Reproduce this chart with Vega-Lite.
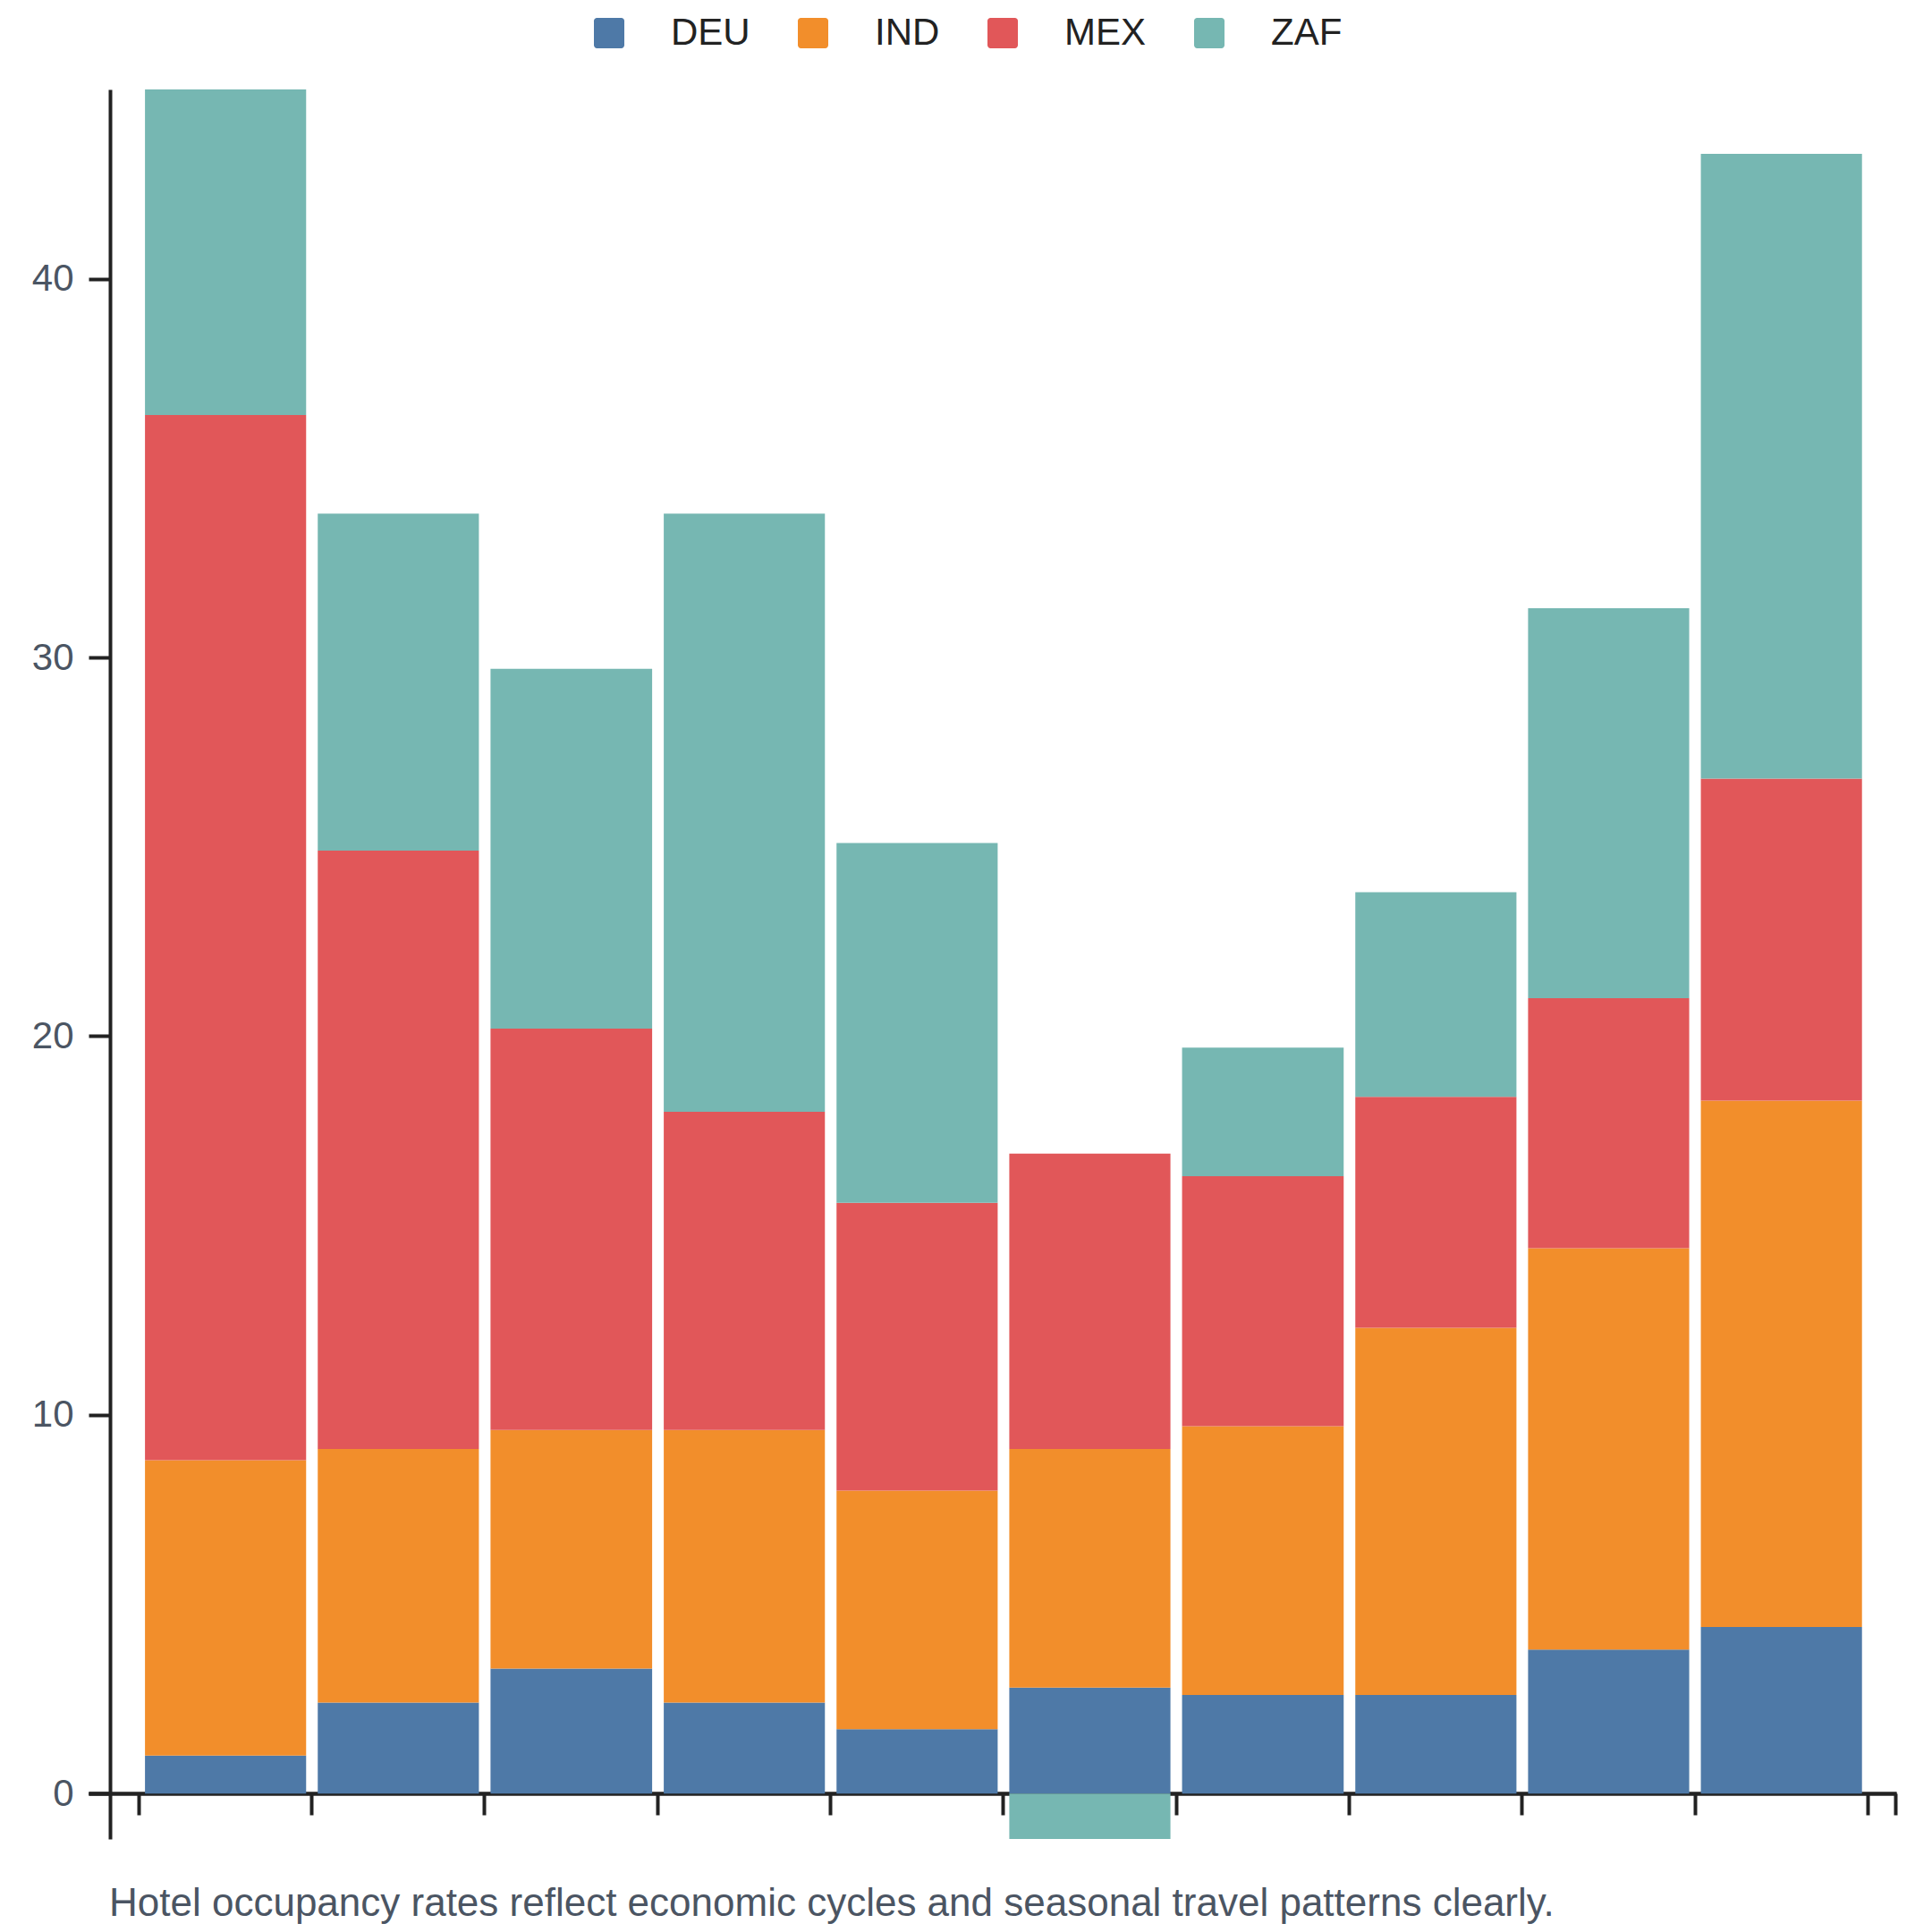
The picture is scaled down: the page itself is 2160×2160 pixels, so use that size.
{
  "$schema": "https://vega.github.io/schema/vega-lite/v6.json",
  "width": 2021,
  "height": 1956,
  "autosize": {"type": "none"},
  "padding": {"left": 99, "top": 100, "right": 40, "bottom": 104},
  "background": "white",
  "title": {
    "text": "Hotel occupancy rates reflect economic cycles and seasonal travel patterns clearly.",
    "orient": "bottom",
    "anchor": "start",
    "frame": "group",
    "font": "Liberation Sans",
    "fontSize": 44,
    "fontWeight": "normal",
    "color": "#4b5563",
    "offset": 51,
    "dx": 23
  },
  "data": {
    "values": [
      {"year": "2014-01-01", "country": "DEU", "value": 1.0},
      {"year": "2014-01-01", "country": "IND", "value": 7.8},
      {"year": "2014-01-01", "country": "MEX", "value": 27.6},
      {"year": "2014-01-01", "country": "ZAF", "value": 8.6},
      {"year": "2015-01-01", "country": "DEU", "value": 2.4},
      {"year": "2015-01-01", "country": "IND", "value": 6.7},
      {"year": "2015-01-01", "country": "MEX", "value": 15.8},
      {"year": "2015-01-01", "country": "ZAF", "value": 8.9},
      {"year": "2016-01-01", "country": "DEU", "value": 3.3},
      {"year": "2016-01-01", "country": "IND", "value": 6.3},
      {"year": "2016-01-01", "country": "MEX", "value": 10.6},
      {"year": "2016-01-01", "country": "ZAF", "value": 9.5},
      {"year": "2017-01-01", "country": "DEU", "value": 2.4},
      {"year": "2017-01-01", "country": "IND", "value": 7.2},
      {"year": "2017-01-01", "country": "MEX", "value": 8.4},
      {"year": "2017-01-01", "country": "ZAF", "value": 15.8},
      {"year": "2018-01-01", "country": "DEU", "value": 1.7},
      {"year": "2018-01-01", "country": "IND", "value": 6.3},
      {"year": "2018-01-01", "country": "MEX", "value": 7.6},
      {"year": "2018-01-01", "country": "ZAF", "value": 9.5},
      {"year": "2019-01-01", "country": "DEU", "value": 2.8},
      {"year": "2019-01-01", "country": "IND", "value": 6.3},
      {"year": "2019-01-01", "country": "MEX", "value": 7.8},
      {"year": "2019-01-01", "country": "ZAF", "value": -1.2},
      {"year": "2020-01-01", "country": "DEU", "value": 2.6},
      {"year": "2020-01-01", "country": "IND", "value": 7.1},
      {"year": "2020-01-01", "country": "MEX", "value": 6.6},
      {"year": "2020-01-01", "country": "ZAF", "value": 3.4},
      {"year": "2021-01-01", "country": "DEU", "value": 2.6},
      {"year": "2021-01-01", "country": "IND", "value": 9.7},
      {"year": "2021-01-01", "country": "MEX", "value": 6.1},
      {"year": "2021-01-01", "country": "ZAF", "value": 5.4},
      {"year": "2022-01-01", "country": "DEU", "value": 3.8},
      {"year": "2022-01-01", "country": "IND", "value": 10.6},
      {"year": "2022-01-01", "country": "MEX", "value": 6.6},
      {"year": "2022-01-01", "country": "ZAF", "value": 10.3},
      {"year": "2023-01-01", "country": "DEU", "value": 4.4},
      {"year": "2023-01-01", "country": "IND", "value": 13.9},
      {"year": "2023-01-01", "country": "MEX", "value": 8.5},
      {"year": "2023-01-01", "country": "ZAF", "value": 16.5}
    ]
  },
  "layer": [
    {
      "mark": {"type": "bar", "binSpacing": 13},
      "encoding": {
        "x": {
          "field": "year",
          "timeUnit": "utcyear",
          "type": "temporal",
          "scale": {
            "domain": [
              {"year": 2013, "month": 9, "date": 17, "utc": true},
              {"year": 2024, "month": 3, "date": 2, "utc": true}
            ]
          },
          "axis": {
            "orient": "bottom",
            "title": null,
            "labels": false,
            "grid": false,
            "offset": -51,
            "ticks": true,
            "tickSize": 24,
            "tickWidth": 4,
            "tickColor": "#222222",
            "domainColor": "#222222",
            "domainWidth": 4,
            "values": [
              {"year": 2014, "month": 1, "date": 1, "utc": true},
              {"year": 2015, "month": 1, "date": 1, "utc": true},
              {"year": 2016, "month": 1, "date": 1, "utc": true},
              {"year": 2017, "month": 1, "date": 1, "utc": true},
              {"year": 2018, "month": 1, "date": 1, "utc": true},
              {"year": 2019, "month": 1, "date": 1, "utc": true}
            ]
          }
        },
        "y": {
          "field": "value",
          "type": "quantitative",
          "stack": "zero",
          "scale": {"nice": false},
          "axis": {
            "title": null,
            "grid": false,
            "offset": -24,
            "values": [0, 10, 20, 30, 40],
            "labelFont": "Liberation Sans",
            "labelFontSize": 42,
            "labelColor": "#4b5563",
            "labelPadding": 17,
            "tickSize": 24,
            "tickWidth": 4,
            "tickColor": "#222222",
            "domainColor": "#222222",
            "domainWidth": 4
          }
        },
        "color": {
          "field": "country",
          "type": "nominal",
          "scale": {
            "domain": ["DEU", "IND", "MEX", "ZAF"],
            "range": ["#4e79a7", "#f28e2b", "#e15759", "#76b7b2"]
          },
          "legend": {
            "title": null,
            "orient": "none",
            "direction": "horizontal",
            "legendX": 561,
            "legendY": -84,
            "symbolType": "M-0.8,-1H0.8A0.2,0.2 0 0 1 1,-0.8V0.8A0.2,0.2 0 0 1 0.8,1H-0.8A0.2,0.2 0 0 1 -1,0.8V-0.8A0.2,0.2 0 0 1 -0.8,-1Z",
            "symbolSize": 1156,
            "symbolStrokeWidth": 0,
            "symbolOpacity": 1,
            "labelFont": "Liberation Sans",
            "labelFontSize": 42,
            "labelColor": "#222222",
            "labelOffset": 48,
            "columnPadding": 49
          }
        },
        "order": {"field": "country", "sort": "ascending"}
      }
    },
    {
      "mark": {"type": "point", "opacity": 0},
      "encoding": {
        "x": {
          "field": "year",
          "timeUnit": "utcyear",
          "type": "temporal",
          "axis": {
            "orient": "bottom",
            "title": null,
            "labels": false,
            "grid": false,
            "offset": -51,
            "ticks": true,
            "tickSize": 24,
            "tickWidth": 4,
            "tickColor": "#222222",
            "domainColor": "#222222",
            "domainWidth": 4,
            "values": [
              {"year": 2020, "month": 1, "date": 1, "utc": true},
              {"year": 2021, "month": 1, "date": 1, "utc": true},
              {"year": 2022, "month": 1, "date": 1, "utc": true},
              {"year": 2023, "month": 1, "date": 1, "utc": true},
              {"year": 2024, "month": 1, "date": 1, "utc": true},
              {"year": 2024, "month": 3, "date": 1, "utc": true}
            ]
          }
        }
      }
    }
  ],
  "resolve": {"axis": {"x": "independent"}},
  "config": {
    "view": {"stroke": null}
  }
}
